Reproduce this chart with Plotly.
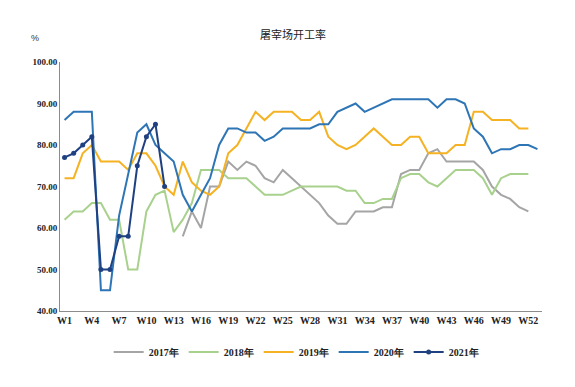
import plotly.graph_objects as go

weeks = [f"W{i}" for i in range(1, 54)]
tick_weeks = [f"W{i}" for i in range(1, 53, 3)]
y_ticks = [40, 50, 60, 70, 80, 90, 100]

N = None
y2017 = [N, N, N, N, N, N, N, N, N, N, N, N, N,
         58, 64, 60, 70, 70, 76, 74, 76, 75, 72, 71, 74, 72, 70,
         68, 66, 63, 61, 61, 64, 64, 64, 65, 65, 73, 74, 74,
         78, 79, 76, 76, 76, 76, 74, 70, 68, 67, 65, 64]
y2018 = [62, 64, 64, 66, 66, 62, 62, 50, 50, 64, 68, 69, 59,
         62, 66, 74, 74, 74, 72, 72, 72, 70, 68, 68, 68, 69, 70,
         70, 70, 70, 70, 69, 69, 66, 66, 67, 67, 72, 73, 73,
         71, 70, 72, 74, 74, 74, 72, 68, 72, 73, 73, 73]
y2019 = [72, 72, 78, 80, 76, 76, 76, 74, 78, 78, 75, 70, 68,
         76, 71, 69, 68, 70, 78, 80, 84, 88, 86, 88, 88, 88, 86,
         86, 88, 82, 80, 79, 80, 82, 84, 82, 80, 80, 82, 82,
         78, 78, 78, 80, 80, 88, 88, 86, 86, 86, 84, 84]
y2020 = [86, 88, 88, 88, 45, 45, 63, 73, 83, 85, 80, 78, 76,
         68, 64, 68, 72, 80, 84, 84, 83, 83, 81, 82, 84, 84, 84,
         84, 85, 85, 88, 89, 90, 88, 89, 90, 91, 91, 91, 91,
         91, 89, 91, 91, 90, 84, 82, 78, 79, 79, 80, 80, 79]
y2021 = [77, 78, 80, 82, 50, 50, 58, 58, 75, 82, 85, 70]

series = [
    ("2017年", y2017, "#A5A5A5", False),
    ("2018年", y2018, "#A9D18E", False),
    ("2019年", y2019, "#F5B222", False),
    ("2020年", y2020, "#2E75B6", False),
    ("2021年", y2021, "#1F4182", True),
]

fig = go.Figure()
for name, vals, color, markers in series:
    fig.add_trace(go.Scatter(
        x=weeks[:len(vals)], y=vals, name=name,
        mode="lines+markers" if markers else "lines",
        line=dict(color=color, width=2),
        marker=dict(size=5, color=color),
        connectgaps=False,
    ))

xtick_font = dict(family="Liberation Serif", size=10, color="#222222", weight="bold")
ytick_font = dict(family="Liberation Serif", size=9, color="#222222", weight="bold")

# page body has an 8px default margin, so the figure is sized/margined to compensate
fig.update_layout(
    width=567, height=371,
    margin=dict(l=52, r=33, t=54, b=60),
    paper_bgcolor="white", plot_bgcolor="white",
    showlegend=True,
    legend=dict(orientation="h", x=0.49, xanchor="center", y=-0.165, yanchor="middle",
                font=dict(family="Liberation Serif", size=10, color="#222222", weight="bold"),
                itemwidth=30, tracegroupgap=0),
    xaxis=dict(type="category", categoryorder="array", categoryarray=weeks,
               range=[-0.5, 52.5], tickmode="array", tickvals=tick_weeks,
               ticktext=tick_weeks, showgrid=False, showline=True,
               linecolor="#8C8C8C", linewidth=1, ticks="", tickfont=xtick_font),
    yaxis=dict(range=[40, 100], tickmode="array", tickvals=y_ticks,
               tickformat=".2f", showgrid=False, showline=True, zeroline=False,
               linecolor="#8C8C8C", linewidth=1, ticks="", tickfont=ytick_font),
    annotations=[
        dict(text="屠宰场开工率", xref="paper", yref="paper", x=0.483, y=1.113,
             xanchor="center", yanchor="middle", showarrow=False,
             font=dict(family="Noto Sans CJK SC", size=11, color="#222222")),
        dict(text="%", xref="paper", yref="paper", x=-0.052, y=1.097,
             xanchor="center", yanchor="middle", showarrow=False,
             font=dict(family="Liberation Sans", size=9, color="#333333")),
    ],
)

fig.write_html("out.html")
